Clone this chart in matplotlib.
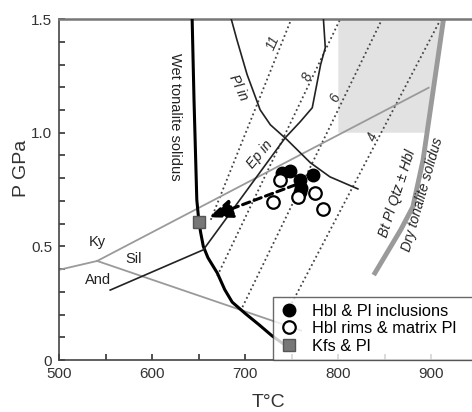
import matplotlib
matplotlib.use('Agg')
from matplotlib import pyplot as plt

plt.rcParams['font.family'] = ['Liberation Sans', 'DejaVu Sans']

# phase boundaries (T in C, P in GPa)
wet_T = [643, 645, 648, 650, 652, 655, 660, 670, 678, 686, 693, 700, 715, 729, 745]
wet_P = [1.50, 1.145, 0.705, 0.62, 0.564, 0.50, 0.45, 0.383, 0.31, 0.255, 0.23, 0.205, 0.155, 0.106, 0.06]

dry_T = [913, 891, 880, 867, 838]
dry_P = [1.50, 0.88, 0.674, 0.573, 0.374]

plin_T = [685, 691, 702, 716, 727, 745, 770, 791, 821]
plin_P = [1.50, 1.41, 1.256, 1.101, 1.035, 0.969, 0.868, 0.806, 0.753]

epin_T = [555, 655, 743, 759, 772, 781, 786, 784]
epin_P = [0.308, 0.485, 0.978, 1.048, 1.11, 1.30, 1.374, 1.50]

# aluminosilicates
kysil_T = [541, 897]
kysil_P = [0.436, 1.198]
andky_T = [500, 541]
andky_P = [0.397, 0.436]
andsil_T = [541, 760]
andsil_P = [0.436, 0.13]

# Al-in-hornblende isopleths (label, start, end)
iso_labels = ['11', '8', '6', '4']
iso_T = [[663, 749.5], [670, 802], [697, 847], [750, 910]]
iso_P = [[0.617, 1.5], [0.37, 1.5], [0.233, 1.5], [0.25, 1.5]]
iso_lab_T = [730, 767, 797, 837]
iso_lab_P = [1.396, 1.247, 1.154, 0.982]

# samples
incl_T = [740, 748, 759, 760, 773, 759]
incl_P = [0.824, 0.833, 0.793, 0.758, 0.815, 0.74]
rim_T = [737, 730, 757, 775, 783]
rim_P = [0.793, 0.696, 0.718, 0.736, 0.665]
kfs_T = [650.5]
kfs_P = [0.608]

fig = plt.figure(figsize=(4.72, 4.12), dpi=100)
ax = fig.add_axes([0.125, 0.126, 0.8877, 0.8277])

# shaded field
shade_T = [800, 800, 913, 895.3]
shade_P = [1.0, 1.5, 1.5, 1.0]
ax.fill(shade_T, shade_P, color='#e2e2e2', lw=0, zorder=0)

for t, p in zip(iso_T, iso_P):
    ax.plot(t, p, ls=(0, (1, 1.6)), color='#444444', lw=1.3, zorder=1)
for lab, t, p in zip(iso_labels, iso_lab_T, iso_lab_P):
    ax.text(t, p, lab, rotation=66, style='italic', fontsize=10,
            ha='center', va='center', color='#333333')

ax.plot(kysil_T, kysil_P, color='#9a9a9a', lw=1.3, zorder=2)
ax.plot(andky_T, andky_P, color='#9a9a9a', lw=1.3, zorder=2)
ax.plot(andsil_T, andsil_P, color='#9a9a9a', lw=1.3, zorder=2)

ax.plot(dry_T, dry_P, color='#9a9a9a', lw=3.5, solid_capstyle='butt', zorder=2)
ax.plot(wet_T, wet_P, color='black', lw=2.2, zorder=3)
ax.plot(plin_T, plin_P, color='#222222', lw=1.2, zorder=3)
ax.plot(epin_T, epin_P, color='#222222', lw=1.2, zorder=3)

ax.annotate('', xy=(661, 0.628), xytext=(754, 0.771),
            arrowprops=dict(arrowstyle='-|>,head_length=0.8,head_width=0.32',
                            ls=(0, (2.5, 1.5)), lw=2.2, color='black',
                            shrinkA=0, shrinkB=0, mutation_scale=18),
            zorder=4)

ax.plot(incl_T, incl_P, 'o', ms=9, mfc='black', mec='black', zorder=5,
        label='Hbl & Pl inclusions')
ax.plot(rim_T, rim_P, 'o', ms=9, mfc='white', mec='black', mew=1.6, zorder=5,
        label='Hbl rims & matrix Pl')
ax.plot(kfs_T, kfs_P, 's', ms=8.5, mfc='#777777', mec='#555555', zorder=5,
        label='Kfs & Pl')

ax.text(625, 1.07, 'Wet tonalite solidus', rotation=-90, fontsize=10.5,
        ha='center', va='center', color='#222222')
ax.text(692.5, 1.198, 'Pl in', rotation=-65, style='italic', fontsize=10,
        ha='center', va='center', color='#222222')
ax.text(716, 0.907, 'Ep in', rotation=50, style='italic', fontsize=10,
        ha='center', va='center', color='#222222')
ax.text(863.5, 0.731, 'Bt Pl Qtz \u00b1 Hbl', rotation=72, style='italic',
        fontsize=10, ha='center', va='center', color='#222222')
ax.text(890, 0.727, 'Dry tonalite solidus', rotation=74, style='italic',
        fontsize=10, ha='center', va='center', color='#222222')
ax.text(541, 0.52, 'Ky', fontsize=10.5, ha='center', va='center', color='#222222')
ax.text(580, 0.445, 'Sil', fontsize=10.5, ha='center', va='center', color='#222222')
ax.text(542, 0.352, 'And', fontsize=10.5, ha='center', va='center', color='#222222')

leg = ax.legend(loc='lower left', bbox_to_anchor=(0.511, 0.0, 0.6, 0.211),
                mode='expand', borderaxespad=0,
                fontsize=11.8, frameon=True, fancybox=False, handletextpad=0.8,
                labelspacing=0.15, borderpad=0.4, handlelength=1.2)
leg.get_frame().set_edgecolor('#444444')
leg.get_frame().set_linewidth(1.0)
leg.set_zorder(10)

ax.set_xlim(500, 950)
ax.set_ylim(0, 1.5)
ax.set_xticks([500, 550, 600, 650, 700, 750, 800, 850, 900])
ax.set_xticklabels(['500', '', '600', '', '700', '', '800', '', '900'])
ax.set_yticks([i / 10 for i in range(16)])
ax.set_yticklabels(['0', '', '', '', '', '0.5', '', '', '', '', '1.0', '', '', '', '', '1.5'])
ax.tick_params(direction='in', length=4, width=1.2, labelsize=11,
               colors='#333333', pad=5)
for s in ['left', 'bottom']:
    ax.spines[s].set_color('#444444')
    ax.spines[s].set_linewidth(1.2)
ax.spines['top'].set_color('#777777')
ax.spines['top'].set_linewidth(1.8)
ax.spines['right'].set_visible(False)

ax.set_xlabel('T\u00b0C', fontsize=14, color='#333333')
ax.xaxis.set_label_coords(0.5, -0.1)
fig.text(22 / 472, 1 - 168 / 412, 'P GPa', rotation=90, fontsize=14,
         color='#333333', ha='center', va='center')

fig.savefig('out.png', dpi=100)
